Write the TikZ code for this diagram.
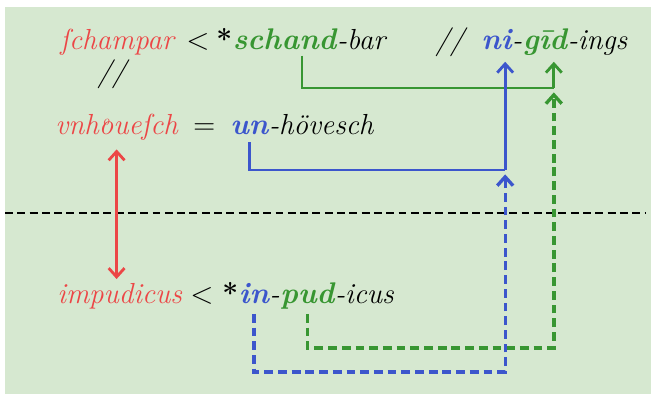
\documentclass[tikz,border=0pt]{standalone}
\usepackage{fontspec}
\usetikzlibrary{positioning,arrows.meta}
\definecolor{bg}{RGB}{214,232,208}
\definecolor{rd}{RGB}{236,70,70}
\definecolor{gr}{RGB}{56,150,50}
\definecolor{bl}{RGB}{60,86,204}
\newcommand{\hoo}{\ooalign{o\cr\hidewidth\raisebox{0.8ex}{\scalebox{0.5}{o}}\hidewidth\cr}}

\begin{document}
\begin{tikzpicture}[x=0.02cm, y=-0.02cm]
    \tikzset{
        txt/.style={inner sep=0pt, text depth=0pt, font=\fontsize{16.5}{19}\selectfont\itshape},
        old/.style={txt, text=rd},
        root/.style={txt, font=\fontsize{17}{19}\selectfont\bfseries\itshape},
        sym/.style={txt, font=\fontsize{16}{19}\selectfont},
        link/.style={line width=1.6pt},
        dashline/.style={line width=1.9pt, dash pattern=on 5pt off 2.8pt},
        arrowtip/.style={-{Straight Barb[length=5pt,width=9pt]}},
    }
    \useasboundingbox (0,0) rectangle (651,394);
    \fill [bg] (5,7) rectangle (651,394);

    \node [old, anchor=base west] (schampar) at (60,50) {ſchampar};
    \node [sym, anchor=base west] (lt1) at (186,50) {$<$};
    \node [sym, anchor=base west] (st1) at (216,50) {\textbf{*}};
    \node [root, text=gr, base right=0pt of st1] (sch) {sch};
    \node [root, text=gr, base right=0pt of sch] (andr) {and};
    \node [txt, base right=0pt of andr] (bar) {-bar};
    \node [txt, anchor=base west] (sl1) at (435,50) {//};
    \node [root, text=bl, anchor=base west] (ni) at (481,50) {ni};
    \node [txt, base right=0pt of ni] (hy1) {-};
    \node [root, text=gr, base right=0pt of hy1] (gid) {gīd};
    \node [txt, base right=0pt of gid] (ings) {-ings};

    \node [txt, anchor=base west] (sl2) at (97,82) {//};

    \node [old, anchor=base west] (vnh) at (55,135) {vnh\hoo ueſch};
    \node [sym, anchor=base west] (eq) at (193,135) {$=$};
    \node [root, text=bl, anchor=base west] (un) at (230,135) {un};
    \node [txt, base right=0pt of un] (hov) {-hövesch};

    \node [old, anchor=base west] (impud) at (57,303) {impudicus};
    \node [sym, anchor=base west] (lt2) at (190,303) {$<$};
    \node [sym, anchor=base west] (st2) at (222,303) {\textbf{*}};
    \node [root, text=bl, base right=0pt of st2] (inp) {in};
    \node [txt, base right=0pt of inp] (hy2) {-};
    \node [root, text=gr, base right=0pt of hy2] (pud) {pud};
    \node [txt, base right=0pt of pud] (icus) {-icus};

    \coordinate (dl) at (5,213);
    \coordinate (dr) at (646,213);
    \draw [line width=1.5pt, dash pattern=on 4.5pt off 2.5pt] (dl) -- (dr);

    \coordinate (gfrom) at ([xshift=-4pt]andr.south);
    \coordinate (gto) at ([xshift=5pt]gid.south);
    \coordinate (bto) at ([xshift=5pt]ni.south);
    \coordinate (gjoin) at (gto |- 0,88);
    \coordinate (bjoin) at (bto |- 0,170);
    \draw [link, gr, shorten <=3pt] (gfrom) |- (gjoin);
    \draw [link, bl, shorten <=4pt] (un.south) |- (bjoin);
    \draw [link, gr, arrowtip, shorten >=6.5pt] (gjoin) -- (gto);
    \draw [link, bl, arrowtip, shorten >=6.5pt] (bjoin) -- (bto);
    \draw [link, gr, dashline, arrowtip, shorten <=6pt, shorten >=2.5pt]
        (pud.south) |- (gto |- 0,348) -- (gjoin);
    \draw [link, bl, dashline, arrowtip, shorten <=6pt, shorten >=2.5pt]
        (inp.south) |- (bto |- 0,372) -- (bjoin);

    \draw [link, rd, {Straight Barb[length=5pt,width=9pt]}-{Straight Barb[length=5pt,width=9pt]},
        shorten <=8pt, shorten >=2pt]
        (vnh.south) -- (vnh.south |- impud.north);
\end{tikzpicture}
\end{document}
